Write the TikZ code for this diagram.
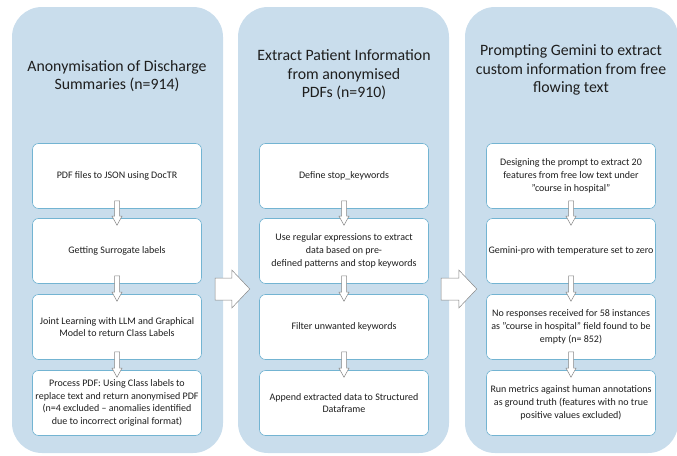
\documentclass[tikz,border=0pt]{standalone}
\usepackage{fontspec}
\setmainfont{Carlito}
\usepackage{tikz}
\usetikzlibrary{calc}

\definecolor{panelblue}{RGB}{201,221,236}
\definecolor{boxline}{RGB}{115,180,210}
\definecolor{arrline}{RGB}{135,135,135}
\definecolor{inktext}{RGB}{30,30,30}

\tikzset{
  panel/.style={fill=panelblue, draw=none, rounded corners=30pt, minimum width=211pt, minimum height=446pt, inner sep=0pt},
  stepbox/.style={fill=white, draw=boxline, line width=0.6pt, rounded corners=6pt, minimum width=169pt, minimum height=65pt, inner sep=0pt, align=center, text=inktext, font=\fontsize{10}{12.7}\selectfont},
  heading/.style={align=center, text=inktext, font=\fontsize{15.8}{18.5}\selectfont},
  smallarr/.style={fill=white, draw=arrline, line width=0.5pt},
  bigarr/.style={fill=white, draw=arrline, line width=0.5pt},
}

% block arrow down, from box #1 to box #2
\newcommand{\downblk}[2]{%
\draw[smallarr] ($(#1.south)+(-2.5,-8)$) -- ($(#2.north)+(-2.5,-2)$) -- ($(#2.north)+(-5,-2)$) -- ($(#2.north)+(0,7)$) -- ($(#2.north)+(5,-2)$) -- ($(#2.north)+(2.5,-2)$) -- ($(#1.south)+(2.5,-8)$) -- cycle ;}
% block arrow right, from panel #1 to panel #2 at height of #3
\newcommand{\rightblk}[3]{%
\draw[bigarr] ($(#1.east |- #3)+(-8,-11)$) -- ($(#2.west |- #3)+(-6,-11)$) -- ($(#2.west |- #3)+(-6,-19)$) -- ($(#2.west |- #3)+(12,0)$) -- ($(#2.west |- #3)+(-6,19)$) -- ($(#2.west |- #3)+(-6,11)$) -- ($(#1.east |- #3)+(-8,11)$) -- cycle ;}

\begin{document}
\begin{tikzpicture}[x=1pt,y=1pt,yscale=-1,xscale=1]
\useasboundingbox (0,0) rectangle (677,455);
%Panels
\node[panel] (p1) at (117.5,230) {};
\node[panel] (p2) at (343.5,230) {};
\node[panel, minimum width=213pt] (p3) at (571.5,230) {};
%Headings
\node[heading] (t1) at (117,76) {Anonymisation of Discharge\\Summaries (n=914)};
\node[heading] (t2) at (344,75) {Extract Patient Information\\from anonymised\\PDFs (n=910)};
\node[heading] (t3) at (571,70) {Prompting Gemini to extract\\custom information from free\\flowing text};
%Column 1
\node[stepbox] (b11) at (117,176) {PDF files to JSON using DocTR};
\node[stepbox] (b12) at (117,251) {Getting Surrogate labels};
\node[stepbox] (b13) at (117,327) {Joint Learning with LLM and Graphical\\Model to return Class Labels};
\node[stepbox] (b14) at (117,403) {Process PDF: Using Class labels to\\replace text and return anonymised PDF\\(n=4 excluded -- anomalies identified\\due to incorrect original format)};
%Column 2
\node[stepbox] (b21) at (344,176) {Define stop\_keywords};
\node[stepbox] (b22) at (344,251) {Use regular expressions to extract\\data based on pre-\\defined patterns and stop keywords};
\node[stepbox] (b23) at (344,327) {Filter unwanted keywords};
\node[stepbox] (b24) at (344,403) {Append extracted data to Structured\\Dataframe};
%Column 3
\node[stepbox] (b31) at (571,176) {Designing the prompt to extract 20\\features from free low text under\\"course in hospital"};
\node[stepbox] (b32) at (571,251) {Gemini-pro with temperature set to zero};
\node[stepbox] (b33) at (571,327) {No responses received for 58 instances\\as "course in hospital" field found to be\\empty (n= 852)};
\node[stepbox] (b34) at (571,403) {Run metrics against human annotations\\as ground truth (features with no true\\positive values excluded)};
%Arrows
\downblk{b11}{b12} \downblk{b12}{b13} \downblk{b13}{b14}
\downblk{b21}{b22} \downblk{b22}{b23} \downblk{b23}{b24}
\downblk{b31}{b32} \downblk{b32}{b33} \downblk{b33}{b34}
\coordinate (g1) at ($(b12.south)!0.5!(b13.north)$);
\coordinate (g2) at ($(b22.south)!0.5!(b23.north)$);
\rightblk{p1}{p2}{g1}
\rightblk{p2}{p3}{g2}
\end{tikzpicture}
\end{document}
